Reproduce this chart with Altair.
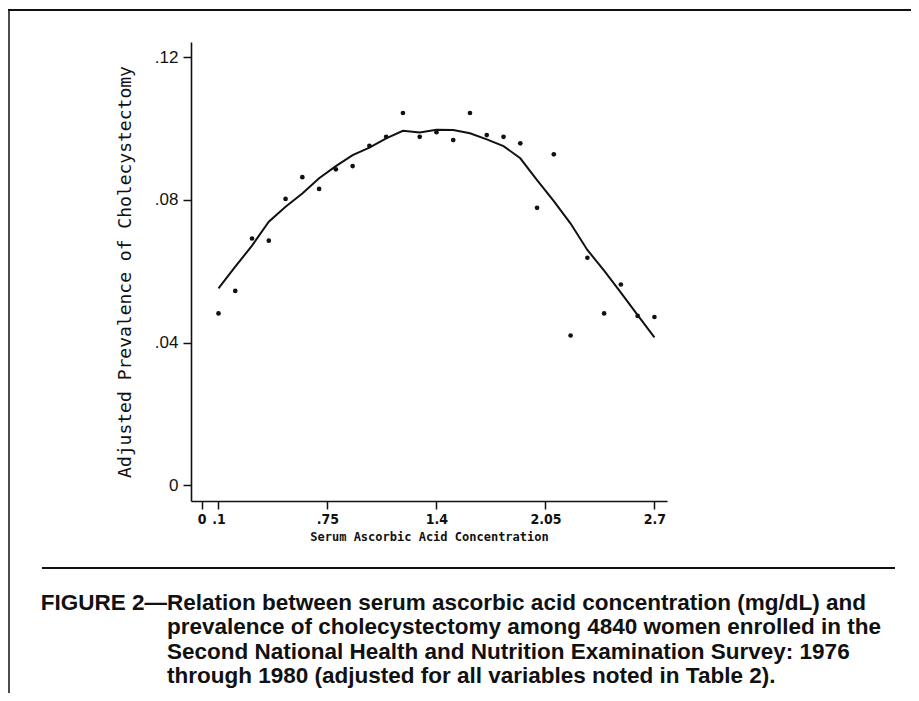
import altair as alt
import pandas as pd

# ---- data ----
conc = [0.1, 0.2, 0.3, 0.4, 0.5, 0.6, 0.7, 0.8, 0.9, 1.0, 1.1, 1.2, 1.3, 1.4,
        1.5, 1.6, 1.7, 1.8, 1.9, 2.0, 2.1, 2.2, 2.3, 2.4, 2.5, 2.6, 2.7]
observed = [0.0482, 0.0545, 0.0692, 0.0686, 0.0803, 0.0864, 0.0831, 0.0886,
            0.0895, 0.0952, 0.0977, 0.1044, 0.0977, 0.0990, 0.0968, 0.1044,
            0.0982, 0.0977, 0.0959, 0.0778, 0.0928, 0.0420, 0.0638, 0.0482,
            0.0563, 0.0475, 0.0472]
smoothed = [0.0552, 0.0613, 0.0672, 0.0739, 0.0781, 0.0818, 0.0861, 0.0895,
            0.0926, 0.0947, 0.0973, 0.0994, 0.0989, 0.0997, 0.0996, 0.0987,
            0.0970, 0.0951, 0.0917, 0.0856, 0.0797, 0.0734, 0.0660, 0.0602,
            0.0540, 0.0477, 0.0415]

x_ticks = [0, 0.1, 0.75, 1.4, 2.05, 2.7]
y_ticks = [0, 0.04, 0.08, 0.12]

x_title = "Serum Ascorbic Acid Concentration"
y_title = "Adjusted Prevalence of Cholecystectomy"
caption_head = "FIGURE 2\u2014"
caption_lines = [
    "Relation between serum ascorbic acid concentration (mg/dL) and",
    "prevalence of cholecystectomy among 4840 women enrolled in the",
    "Second National Health and Nutrition Examination Survey: 1976",
    "through 1980 (adjusted for all variables noted in Table 2).",
]

df = pd.DataFrame({"conc": conc, "observed": observed, "smoothed": smoothed})
one = pd.DataFrame({"a": [0]})

INK = "#111111"
PLOT_W, PLOT_H = 476, 459
PAD_L, PAD_T = 183, 34
CANVAS_W, CANVAS_H = 903, 685

xs = alt.Scale(domain=[-0.064, 2.775], nice=False, zero=False)
ys = alt.Scale(domain=[-0.0044, 0.1243], nice=False, zero=False)

x_axis = alt.Axis(
    values=x_ticks, format=".2~f", labelExpr="replace(datum.label, /^0\\./, '.')",
    grid=False, domainColor=INK, domainWidth=1.6, tickColor=INK, tickWidth=1.5,
    tickSize=8, labelFont="DejaVu Sans Condensed", labelFontSize=14, labelFontWeight="bold",
    labelColor=INK, labelPadding=3, title=x_title, titleFont="DejaVu Sans Mono",
    titleFontSize=12, titleFontWeight="bold", titleColor=INK, titlePadding=5,
    labelFlush=False, labelOverlap=False,
)
y_axis = alt.Axis(
    values=y_ticks, format=".2~f", labelExpr="replace(datum.label, /^0\\./, '.')",
    grid=False, domainColor=INK, domainWidth=1.6, tickColor=INK, tickWidth=1.5,
    tickSize=8, labelFont="Liberation Sans", labelFontSize=17, labelColor=INK,
    labelPadding=5, title=y_title, titleFont="DejaVu Sans Mono", titleFontSize=18,
    titleFontWeight="normal", titleColor=INK, titlePadding=20,
    labelFlush=False, labelOverlap=False,
)

base = alt.Chart(df)
line = base.mark_line(color=INK, strokeWidth=2).encode(
    x=alt.X("conc:Q", scale=xs, axis=x_axis),
    y=alt.Y("smoothed:Q", scale=ys, axis=y_axis),
)
points = base.mark_circle(color=INK, opacity=1, size=22).encode(
    x=alt.X("conc:Q", scale=xs),
    y=alt.Y("observed:Q", scale=ys),
)

# frame and separator (pixel offsets relative to plot origin)
top_border = alt.Chart(one).mark_rule(color=INK, strokeWidth=2).encode(
    x=alt.value(-PAD_L), x2=alt.value(CANVAS_W - PAD_L), y=alt.value(-32))
left_border = alt.Chart(one).mark_rule(color=INK, strokeWidth=1.5).encode(
    x=alt.value(-182), y=alt.value(-32), y2=alt.value(CANVAS_H - PAD_T))
separator = alt.Chart(one).mark_rule(color=INK, strokeWidth=2).encode(
    x=alt.value(-149), x2=alt.value(704), y=alt.value(526))

head = alt.Chart(one).mark_text(
    text=caption_head, font="Liberation Sans", fontWeight="bold", fontSize=22.5,
    align="right", baseline="top", color=INK,
).encode(x=alt.value(-24), y=alt.value(550))
body = alt.Chart(one).mark_text(
    text=caption_lines, font="Liberation Sans", fontWeight="bold", fontSize=22.5,
    align="left", baseline="top", lineHeight=24.4, color=INK,
).encode(x=alt.value(-24), y=alt.value(550))

chart = alt.layer(line, points, top_border, left_border, separator, head, body).properties(
    width=PLOT_W, height=PLOT_H,
    autosize=alt.AutoSizeParams(type="none"),
    padding={"left": PAD_L, "top": PAD_T, "right": CANVAS_W - PAD_L - PLOT_W,
             "bottom": CANVAS_H - PAD_T - PLOT_H},
    background="white",
).configure_view(strokeWidth=0)

chart.save("out.html", embed_options={"renderer": "svg", "actions": False})
